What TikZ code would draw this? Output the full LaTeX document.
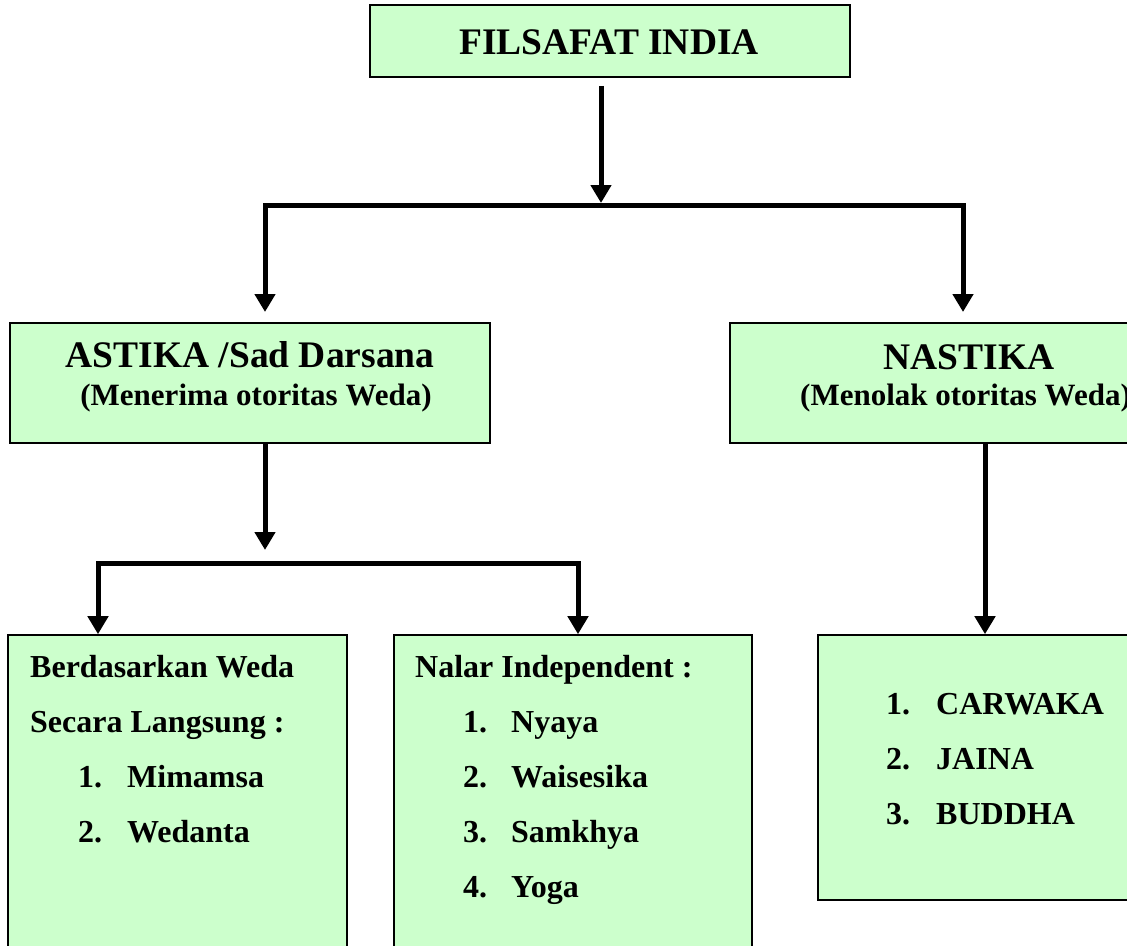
\documentclass[tikz,border=0pt]{standalone}
\usepackage{fontspec}
\setmainfont{Liberation Serif}
\usetikzlibrary{arrows.meta}
\definecolor{boxgreen}{HTML}{CCFFCC}
\begin{document}
\begin{tikzpicture}[x=1pt,y=-1pt,
  box/.style={draw=black, line width=1.6pt, fill=boxgreen, inner sep=0pt},
  arr/.style={line width=5pt, -{Triangle[width=20pt,length=18pt]}},
  bar/.style={line width=5pt, line cap=rect},
  big/.style={font=\fontsize{37.5}{42}\selectfont\bfseries, anchor=base, inner sep=0pt},
  sub/.style={font=\fontsize{31}{34}\selectfont\bfseries, anchor=base, inner sep=0pt},
  item/.style={font=\fontsize{32}{36}\selectfont\bfseries, anchor=base west, inner sep=0pt},
]
\useasboundingbox (0,0) rectangle (1127,945);
\clip (0,0) rectangle (1127,945);

% boxes
\node[box, minimum width=480pt, minimum height=72pt] (top) at (610,41) {};
\node[box, minimum width=480pt, minimum height=120pt] (astika) at (250,383) {};
\node[box, minimum width=420pt, minimum height=120pt] (nastika) at (940,383) {};
\node[box, minimum width=339pt, minimum height=340pt] (left) at (177.5,805) {};
\node[box, minimum width=358pt, minimum height=340pt] (mid) at (573,805) {};
\node[box, minimum width=330pt, minimum height=265pt] (right) at (983,767.5) {};

% texts
\node[big] (tTop) at (609,54) {FILSAFAT INDIA};
\node[big] (tAst) at (250,367) {ASTIKA /Sad Darsana};
\node[sub] (tAst2) at (256,405) {(Menerima otoritas Weda)};
\node[big] (tNas) at (969,369) {NASTIKA};
\node[sub, anchor=base west] (tNas2) at (800,405) {(Menolak otoritas Weda)};

\node[item] (l0) at (30,677) {Berdasarkan Weda};
\node[item] (l1) at (30,732) {Secara Langsung :};
\node[item] (l2n) at (78,787) {1.};
\node[item] (l2) at (127,787) {Mimamsa};
\node[item] (l3n) at (78,842) {2.};
\node[item] (l3) at (127,842) {Wedanta};

\node[item] (m0) at (415,677) {Nalar Independent :};
\node[item] (m1n) at (463,732) {1.};
\node[item] (m1) at (511,732) {Nyaya};
\node[item] (m2n) at (463,787) {2.};
\node[item] (m2) at (511,787) {Waisesika};
\node[item] (m3n) at (463,842) {3.};
\node[item] (m3) at (511,842) {Samkhya};
\node[item] (m4n) at (463,897) {4.};
\node[item] (m4) at (511,897) {Yoga};

\node[item] (r1n) at (886,714) {1.};
\node[item] (r1) at (936,714) {CARWAKA};
\node[item] (r2n) at (886,769) {2.};
\node[item] (r2) at (936,769) {JAINA};
\node[item] (r3n) at (886,824) {3.};
\node[item] (r3) at (936,824) {BUDDHA};

% connectors
\coordinate (j0) at (601,203);
\coordinate (b1) at (265,205);
\coordinate (b2) at (963,205);
\coordinate (a1) at (265,312);
\coordinate (a2) at (963,312);
\draw[arr] (top.south -| j0) ++(0,8) -- (j0);
\draw[bar] (b1) -- (b2);
\draw[arr] (b1) -- (a1);
\draw[arr] (b2) -- (a2);

\coordinate (j1) at (265,550);
\coordinate (c1) at (98,563);
\coordinate (c2) at (578,563);
\draw[arr] (astika.south -| j1) -- (j1);
\draw[bar] (c1) -- (c2);
\draw[arr] (c1) -- (c1 |- left.north);
\draw[arr] (c2) -- (c2 |- mid.north);

\draw[arr] (nastika.south -| 985,0) -- (985,0 |- right.north);
\end{tikzpicture}
\end{document}
